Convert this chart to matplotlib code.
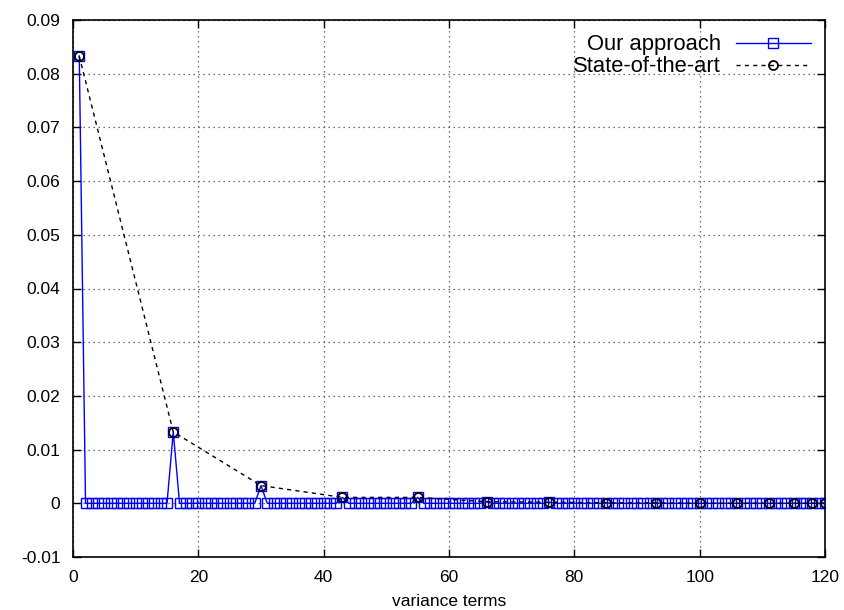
import matplotlib
matplotlib.use("Agg")
import matplotlib.pyplot as plt
from matplotlib.ticker import FuncFormatter, MultipleLocator

plt.rcParams['font.family'] = ['Liberation Sans', 'DejaVu Sans']

# State-of-the-art: points at group starts
sota_x = [1, 16, 30, 43, 55, 66, 76, 85, 93, 100, 106, 111, 115, 118, 120]
sota_y = [0.0833, 0.0133, 0.0033, 0.0011, 0.0011, 0.0003, 0.0002, 0.0001,
          0.00005, 0.0, 0.0, 0.0, 0.0, 0.0, 0.0]

# Our approach: every term 1..120, non-zero only at group starts
ours_x = list(range(1, 121))
ours_nonzero = {1: 0.0833, 16: 0.0133, 30: 0.0033, 43: 0.0011, 55: 0.0011,
                66: 0.0003, 76: 0.0002, 85: 0.0001, 93: 0.00005}
ours_y = [ours_nonzero.get(i, 0.0) for i in ours_x]

fig = plt.figure(figsize=(8.45, 6.10), dpi=100)
ax = fig.add_axes([73/845, 1 - 557/610, (825-73)/845, (557-20)/610])

ax.plot(ours_x, ours_y, color='#0000ff', lw=1.0, marker='s', ms=6.5,
        mfc='none', mec='#0000ff', mew=1.0, label='Our approach', zorder=3)
ax.plot(sota_x, sota_y, color='black', lw=1.0, ls=(0, (3, 3)), marker='o', ms=6.5,
        mfc='none', mec='black', mew=1.3, label='State-of-the-art', zorder=4)

ax.set_xlim(0, 120)
ax.set_ylim(-0.01, 0.09)
ax.xaxis.set_major_locator(MultipleLocator(20))
ax.yaxis.set_major_locator(MultipleLocator(0.01))
ax.yaxis.set_major_formatter(FuncFormatter(lambda v, p: ('%g' % round(v, 4)).replace('\u2212', '-')))
ax.xaxis.set_major_formatter(FuncFormatter(lambda v, p: '%d' % round(v)))

ax.grid(True, color='#444444', ls=(0, (1, 3)), lw=0.9)
ax.tick_params(direction='in', top=True, right=True, length=6, width=1,
               labelsize=12.5, pad=9)
for s in ax.spines.values():
    s.set_linewidth(1.2)

ax.set_xlabel('variance terms', fontsize=12.5, labelpad=7)

leg = ax.legend(loc='upper right', frameon=False, markerfirst=False, fontsize=15.8,
                handlelength=3.4, borderaxespad=0.45, labelspacing=0.05,
                handletextpad=0.7, borderpad=0.2)
for t in leg.get_texts():
    t.set_ha('right')

fig.savefig('out.png', dpi=100)
